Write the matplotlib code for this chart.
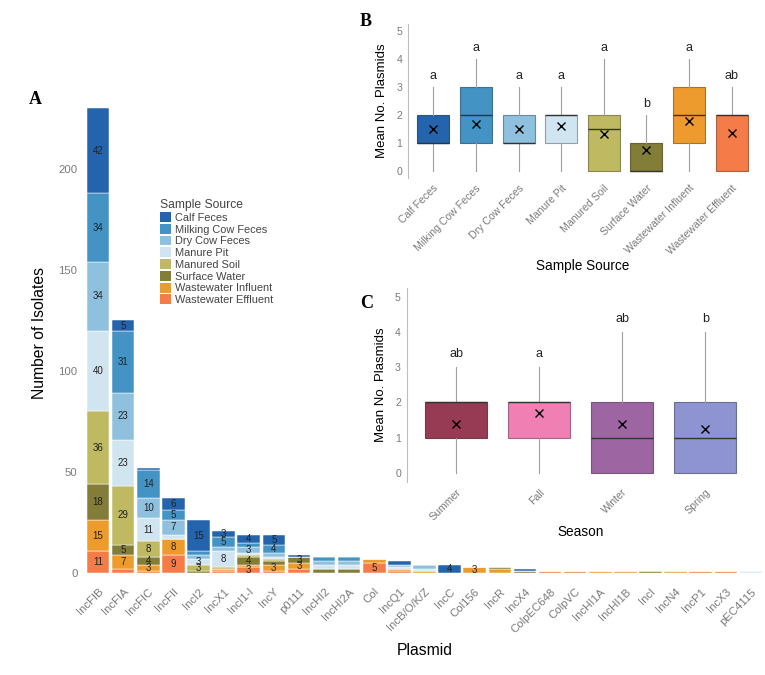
import matplotlib
matplotlib.use("Agg")
import matplotlib.pyplot as plt
from matplotlib.patches import Patch
import numpy as np

plt.rcParams['font.family'] = ['Liberation Sans', 'DejaVu Sans']

# ---------------- Panel A data ----------------
plasmids = ["IncFIB", "IncFIA", "IncFIC", "IncFII", "IncI2", "IncX1", "IncI1-I", "IncY",
            "p0111", "IncHI2", "IncHI2A", "Col", "IncQ1", "IncB/O/K/Z", "IncC", "Col156",
            "IncR", "IncX4", "ColpEC648", "ColpVC", "IncHI1A", "IncHI1B", "IncI", "IncN4",
            "IncP1", "IncX3", "pEC4115"]
sources = ["Calf Feces", "Milking Cow Feces", "Dry Cow Feces", "Manure Pit",
           "Manured Soil", "Surface Water", "Wastewater Influent", "Wastewater Effluent"]
source_colors = ["#2464AC", "#4393C5", "#8FC1DE", "#D1E5F1",
                 "#BFBA62", "#827D37", "#EE9B2E", "#F57B48"]

calf_feces    = [42, 5, 1, 6, 15, 3, 4, 5, 1, 0, 0, 0, 2, 0, 4, 0, 0, 1, 0, 0, 0, 0, 0, 0, 0, 0, 0]
milking_cow   = [34, 31, 14, 5, 2, 5, 2, 4, 0, 2, 2, 0, 0, 0, 0, 0, 0, 0, 0, 0, 0, 0, 0, 0, 0, 0, 0]
dry_cow       = [34, 23, 10, 7, 2, 2, 3, 2, 0, 2, 2, 0, 1, 2, 0, 0, 0, 0, 0, 0, 0, 0, 0, 0, 0, 0, 0]
manure_pit    = [40, 23, 11, 2, 3, 8, 1, 1, 0, 2, 2, 0, 1, 1, 0, 0, 0, 0, 0, 0, 0, 0, 0, 0, 0, 0, 1]
manured_soil  = [36, 29, 8, 0, 3, 1, 1, 1, 0, 0, 0, 0, 0, 0, 0, 0, 0, 0, 0, 0, 0, 0, 0, 0, 0, 0, 0]
surface_water = [18, 5, 4, 0, 1, 0, 4, 2, 3, 2, 2, 0, 0, 0, 0, 0, 1, 1, 0, 0, 0, 0, 1, 0, 0, 0, 0]
ww_influent   = [15, 7, 3, 8, 0, 1, 1, 3, 3, 0, 0, 2, 1, 1, 0, 3, 2, 0, 0, 0, 1, 1, 0, 1, 0, 0, 0]
ww_effluent   = [11, 2, 1, 9, 0, 1, 3, 1, 2, 0, 0, 5, 1, 0, 0, 0, 0, 0, 1, 1, 0, 0, 0, 0, 1, 1, 0]
series_A = [calf_feces, milking_cow, dry_cow, manure_pit, manured_soil,
            surface_water, ww_influent, ww_effluent]
yticks_A = [0, 50, 100, 150, 200]

# ---------------- Panel B data ----------------
b_cats = sources
b_colors = source_colors
b_q1 = [1, 1, 1, 1, 0, 0, 1, 0]
b_med = [1, 2, 1, 2, 1.5, 0, 2, 2]
b_q3 = [2, 3, 2, 2, 2, 1, 3, 2]
b_wlo = [0, 0, 0, 0, 0, 0, 0, 0]
b_whi = [3, 4, 3, 3, 4, 2, 4, 3]
b_mean = [1.48, 1.68, 1.50, 1.58, 1.31, 0.73, 1.76, 1.33]
b_letters = ["a", "a", "a", "a", "a", "b", "a", "ab"]

# ---------------- Panel C data ----------------
c_cats = ["Summer", "Fall", "Winter", "Spring"]
c_colors = ["#973A54", "#F080B3", "#9D66A2", "#8E94D2"]
c_q1 = [1, 1, 0, 0]
c_med = [2, 2, 1, 1]
c_q3 = [2, 2, 2, 2]
c_wlo = [0, 0, 0, 0]
c_whi = [3, 3, 4, 4]
c_mean = [1.39, 1.71, 1.38, 1.23]
c_letters = ["ab", "a", "ab", "b"]

W, H = 765, 675
fig = plt.figure(figsize=(W / 100, H / 100), dpi=100)

def frac(x0, y0, x1, y1):
    return [x0 / W, 1 - y1 / H, (x1 - x0) / W, (y1 - y0) / H]

tick_grey = "#7a7a7a"

# ---------------- Panel A ----------------
axA = fig.add_axes(frac(83, 85.2, 766, 581))
axA.patch.set_alpha(0)
x = np.arange(len(plasmids))
bottom = np.zeros(len(plasmids))
# stack from the last source (bottom) to the first (top)
for vals, col, name in reversed(list(zip(series_A, source_colors, sources))):
    v = np.array(vals, dtype=float)
    axA.bar(x, v, bottom=bottom, width=0.9, color=col, edgecolor="white",
            linewidth=0.35, label=name)
    for xi, (vi, bi) in enumerate(zip(v, bottom)):
        if vi >= 3:
            axA.text(xi, bi + vi / 2, f"{int(vi)}", ha="center", va="center",
                     fontsize=7, color="#222222")
    bottom = bottom + v
axA.set_xlim(-0.6, len(plasmids) - 0.4)
axA.set_ylim(-4, 241.5)
axA.set_yticks(yticks_A)
axA.set_xticks(x)
axA.set_xticklabels(plasmids, rotation=45, ha="right", rotation_mode="anchor")
axA.tick_params(axis="both", length=0, labelsize=8.2, colors=tick_grey, pad=4)
for s in axA.spines.values():
    s.set_visible(False)
axA.set_ylabel("Number of Isolates", fontsize=11.3, color="black", labelpad=8)
axA.set_xlabel("Plasmid", fontsize=11.3, color="black", labelpad=6)

handles = [Patch(facecolor=c, edgecolor="none", label=n) for n, c in zip(sources, source_colors)]
leg = fig.legend(handles=handles, title="Sample Source", loc="upper left",
                 bbox_to_anchor=(160 / W, 1 - 199 / H), frameon=False,
                 fontsize=7.9, title_fontsize=8.7, handlelength=1.0, handleheight=1.0,
                 handletextpad=0.4, labelspacing=0.1, borderpad=0, borderaxespad=0,
                 alignment="left")
for t in leg.get_texts():
    t.set_color("#444444")
leg.get_title().set_color("#444444")

# ---------------- Box panels ----------------
def darker(c, f=0.7):
    rgb = np.array(matplotlib.colors.to_rgb(c))
    return tuple(rgb * f)

def box_panel(ax, cats, colors, q1, med, q3, wlo, whi, mean, letters, xlabel, lblsize):
    stats = []
    for i in range(len(cats)):
        stats.append(dict(q1=q1[i], med=med[i], q3=q3[i], whislo=wlo[i], whishi=whi[i],
                          mean=mean[i], fliers=[], label=cats[i]))
    pos = np.arange(len(cats))
    bp = ax.bxp(stats, positions=pos, widths=0.75, patch_artist=True, showmeans=True,
                showcaps=False, showfliers=False,
                medianprops=dict(color="#333333", linewidth=1.0),
                whiskerprops=dict(color="#a0a0a0", linewidth=0.8),
                meanprops=dict(marker="x", markeredgecolor="black", markersize=6,
                               markeredgewidth=1.0),
                boxprops=dict(linewidth=0.8))
    for patch, c in zip(bp["boxes"], colors):
        patch.set_facecolor(c)
        patch.set_edgecolor(darker(c, 0.6) + (0.8,))
    for i, lt in enumerate(letters):
        ax.text(pos[i], whi[i] + 0.37, lt, ha="center", va="center", fontsize=9, color="#222222")
    ax.set_xlim(-0.6, len(cats) - 0.4)
    ax.set_ylim(-0.25, 5.25)
    ax.set_yticks([0, 1, 2, 3, 4, 5])
    ax.set_xticks(pos)
    ax.set_xticklabels(cats, rotation=45, ha="right", rotation_mode="anchor")
    ax.tick_params(axis="both", length=0, labelsize=lblsize, colors=tick_grey, pad=4)
    for k in ["top", "right", "bottom"]:
        ax.spines[k].set_visible(False)
    ax.spines["left"].set_color("#bdbdbd")
    ax.spines["left"].set_linewidth(0.8)
    ax.set_ylabel("Mean No. Plasmids", fontsize=9.5, color="black", labelpad=6)
    ax.set_xlabel(xlabel, fontsize=9.8, color="black", labelpad=2)

axB = fig.add_axes(frac(407.7, 23.7, 757.3, 177.7))
box_panel(axB, b_cats, b_colors, b_q1, b_med, b_q3, b_wlo, b_whi, b_mean, b_letters,
          "Sample Source", 7.6)
axC = fig.add_axes(frac(406.5, 287.9, 755.1, 481.5))
box_panel(axC, c_cats, c_colors, c_q1, c_med, c_q3, c_wlo, c_whi, c_mean, c_letters,
          "Season", 7.6)

# Panel letters
for lt, (px, py) in zip(["A", "B", "C"], [(35, 99), (366, 21), (367, 304)]):
    fig.text(px / W, 1 - py / H, lt, ha="center", va="center", fontsize=13,
             fontweight="bold", family=["Liberation Serif", "DejaVu Serif"])

fig.savefig("out.png", dpi=100)
